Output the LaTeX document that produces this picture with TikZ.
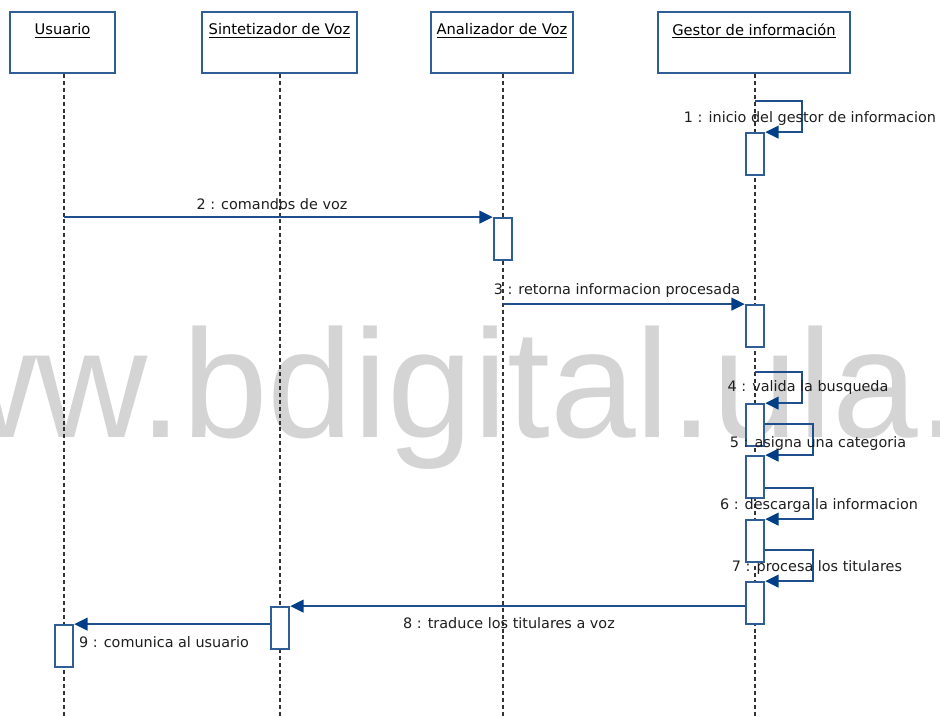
\documentclass[tikz,border=0pt]{standalone}
\usepackage{fontspec}
\setmainfont{DejaVu Sans}
\newfontfamily\wmfont{Liberation Sans}
\usetikzlibrary{arrows.meta}
\usetikzlibrary{backgrounds}
\usetikzlibrary{positioning}
\definecolor{boxblue}{RGB}{47,94,150}
\definecolor{msgblue}{RGB}{31,78,140}
\definecolor{tipblue}{RGB}{0,63,135}
\definecolor{wmgray}{RGB}{212,212,212}
\definecolor{txtgray}{RGB}{30,30,30}

\begin{document}
\begin{tikzpicture}[x=0.75pt,y=-0.75pt,font=\fontsize{10.8}{13}\selectfont,
  obj/.style={draw=boxblue,line width=1.3pt,fill=white,inner sep=0pt,minimum height=45.75pt,minimum width=#1},
  title/.style={inner sep=1pt,text=black,font=\fontsize{11}{13}\selectfont},
  act/.style={draw=boxblue,line width=1.3pt,fill=white,inner sep=0pt,minimum width=14pt,minimum height=31.5pt},
  life/.style={line width=0.9pt,black!80,dash pattern=on 3pt off 2.2pt},
  msg/.style={draw=msgblue,line width=1.3pt,-{Triangle[length=10pt,width=9.5pt,color=tipblue]}},
  lbl/.style={inner sep=1pt,text=txtgray}]

  \useasboundingbox (0,0) rectangle (940,717);
  \clip (0,0) rectangle (940,717);

  % objects
  \node[obj=78.75pt] at (62.5,42.5) (usr) {};
  \node[obj=116.25pt] at (279.5,42.5) (sin) {};
  \node[obj=106.5pt] at (502,42.5) (ana) {};
  \node[obj=144pt] at (754,42.5) (ges) {};

  \node[title,below=8.3pt of usr.north] (usr-t) {\underline{Usuario}};
  \node[title,below=8.3pt of sin.north] (sin-t) {\underline{Sintetizador de Voz}};
  \node[title,below=8.3pt of ana.north] (ana-t) {\underline{Analizador de Voz}};
  \node[title,below=8.3pt of ges.north] (ges-t) {\underline{Gestor de información}};

  % activations
  \node[act] at (755,154) (g1) {};
  \node[act] at (503,239) (a2) {};
  \node[act] at (755,326) (g3) {};
  \node[act] at (755,425) (g4) {};
  \node[act] at (755,477) (g5) {};
  \node[act] at (755,541) (g6) {};
  \node[act] at (755,603) (g7) {};
  \node[act] at (280,628) (s8) {};
  \node[act] at (64,646) (u9) {};

  \begin{scope}[on background layer]
    \node[anchor=base west,inner sep=0pt,text=wmgray,font=\wmfont\fontsize{115.5}{120}\selectfont]
      at (-186,437) (wm) {www.bdigital.ula.ve};
    \draw[life] (u9 |- usr.south) -- ++(0,644);
    \draw[life] (s8 |- sin.south) -- ++(0,644);
    \draw[life] (a2 |- ana.south) -- ++(0,644);
    \draw[life] (g1 |- ges.south) -- ++(0,644);
  \end{scope}

  % messages
  \path
    (u9 |- a2.north) edge[msg] (a2.north west)
    (a2 |- g3.north) edge[msg] (g3.north west)
    (g7.west |- s8.north) edge[msg] (s8.north east)
    (s8.west |- u9.north) edge[msg] (u9.north east)
    ;
  \draw[msg] (g1.north) ++(0,-31) -| ++(47,31) -- (g1.north east);
  \draw[msg] (g4.north) ++(0,-31) -| ++(47,31) -- (g4.north east);
  \draw[msg] (g5.north east) ++(0,-31) -| ++(48,31) -- (g5.north east);
  \draw[msg] (g6.north east) ++(0,-31) -| ++(48,31) -- (g6.north east);
  \draw[msg] (g7.north east) ++(0,-31) -| ++(48,31) -- (g7.north east);

  % labels
  \node[lbl] at (810,119) (m1) {1 : inicio del gestor de informacion};
  \node[lbl] at (272,204) (m2) {2 : comandos de voz};
  \node[lbl] at (617,291) (m3) {3 : retorna informacion procesada};
  \node[lbl] at (808,388) (m4) {4 : valida la busqueda};
  \node[lbl] at (818,444) (m5) {5 : asigna una categoria};
  \node[lbl] at (819,506) (m6) {6 : descarga la informacion};
  \node[lbl] at (817,568) (m7) {7 : procesa los titulares};
  \node[lbl] at (509,623) (m8) {8 : traduce los titulares a voz};
  \node[lbl] at (164,642) (m9) {9 : comunica al usuario};

\end{tikzpicture}
\end{document}
